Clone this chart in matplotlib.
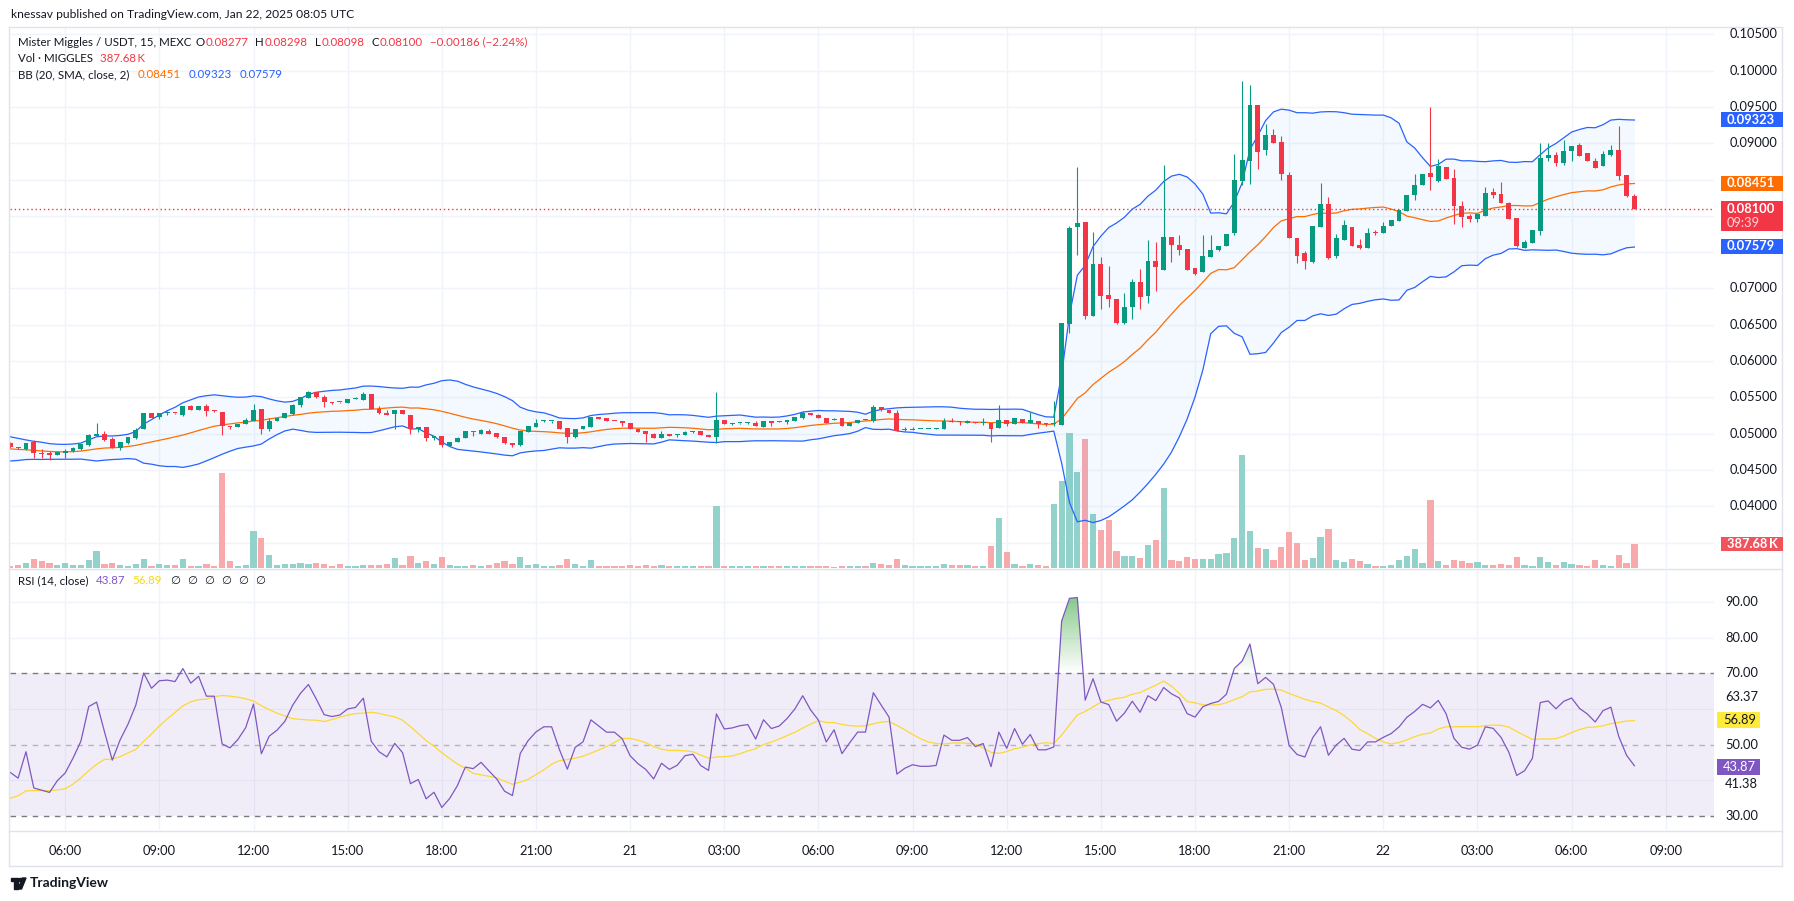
import numpy as np
import pandas as pd
import matplotlib
matplotlib.use("Agg")
import matplotlib.pyplot as plt
import matplotlib.path as mpath
from matplotlib.patches import Rectangle, Polygon, Circle
from matplotlib.lines import Line2D
from matplotlib.colors import LinearSegmentedColormap
from matplotlib.transforms import IdentityTransform

plt.rcParams['font.family'] = ['Lato', 'DejaVu Sans']

# ---------------- data (15-minute candles, MIGGLES/USDT, MEXC) ----------------
start_time = "2025-01-20 04:15"

opens = [
    .0487, .0482, .0479, .0488, .0473, .0473, .0471, .0473, .0476, .0479,
    .0484, .0497, .0500, .0492, .0480, .0487, .0494, .0507, .0528, .0523,
    .0528, .0529, .0526, .0538, .0532, .0538, .0532, .0530, .0511, .0509,
    .0513, .0518, .0534, .0507, .0517, .0521, .0527, .0539, .0549, .0558,
    .0550, .0543, .0544, .0542, .0547, .0546, .0554, .0534, .0528, .0527,
    .0532, .0526, .0506, .0509, .0494, .0497, .0483, .0488, .0494, .0503,
    .0500, .0504, .0501, .0496, .0487, .0484, .0502, .0509, .0517, .0517,
    .0518, .0508, .0496, .0506, .0509, .0523, .0521, .0518, .0518, .0515,
    .0507, .0503, .0500, .0494, .0500, .0498, .0498, .0502, .0503, .0498,
    .0496, .0519, .0513, .0514, .0514, .0515, .0509, .0518, .0517, .0516,
    .0518, .0522, .0529, .0525, .0522, .0519, .0521, .0511, .0515, .0520,
    .0518, .0537, .0533, .0529, .0505, .0505, .0506, .0506, .0506, .0506,
    .0518, .05162, .0515, .0516, .0514, .0515, .0508, .0519, .0513, .0520,
    .0515, .0517, .0515, .0513, .0512, .0651, .0784, .0792, .0662, .0734,
    .0691, .0685, .0652, .0674, .0709, .0689, .0738, .0726, .0771, .0760,
    .0754, .0728, .0722, .0743, .0753, .0759, .0776, .0848, .0876, .0953,
    .0891, .0912, .0902, .0856, .0769, .0749, .0736, .0785, .0816, .0744,
    .0767, .0785, .0760, .0756, .07762, .0776, .0786, .0793, .0807, .0828,
    .0842, .0859, .0848, .0867, .0852, .0814, .0800, .0796, .0800, .0833,
    .0830, .0818, .0797, .0756, .0762, .0779, .0879, .0884, .0873, .0889,
    .0897, .0886, .0876, .0868, .0884, .0891, .0856, .08277,
]
highs = [
    .0488, .0482, .0487, .0491, .0479, .0476, .0475, .0479, .0481, .0486,
    .0499, .0514, .0503, .0496, .0488, .0496, .0508, .0528, .0528, .0529,
    .0531, .0529, .0538, .0539, .0538, .0541, .0533, .0530, .0511, .0513,
    .0522, .0541, .0534, .0521, .0522, .0529, .0541, .0550, .0559, .0558,
    .0553, .0543, .0544, .0547, .0551, .0557, .0554, .0538, .0533, .0533,
    .0533, .0526, .0509, .0509, .0497, .0497, .0488, .0496, .0503, .0503,
    .0506, .0506, .0501, .0496, .0487, .0503, .0511, .0520, .0519, .0518,
    .0518, .0508, .0507, .0510, .0523, .0523, .0521, .0518, .0518, .0515,
    .0507, .0503, .0501, .0504, .0500, .0499, .0504, .0504, .0503, .0498,
    .0558, .0519, .0514, .0515, .0516, .0517, .0518, .0518, .0517, .0519,
    .0523, .0531, .0529, .0527, .0522, .0521, .0521, .0515, .0519, .0520,
    .0539, .0537, .0533, .0533, .0509, .0509, .05065, .05065, .0508, .0521,
    .0522, .0518, .0519, .0516, .0521, .0515, .0539, .0519, .0522, .0520,
    .0530, .0517, .0515, .0545, .0652, .0786, .0867, .0792, .0778, .0743,
    .0731, .0685, .0694, .0713, .0727, .0767, .0764, .0870, .0771, .0773,
    .0754, .0728, .0773, .0773, .0758, .0775, .0885, .0986, .0980, .0953,
    .0926, .0920, .0910, .0860, .0769, .0751, .0786, .0845, .0826, .0775,
    .0794, .0785, .0768, .0783, .0780, .0791, .0794, .0808, .0829, .0858,
    .0858, .0950, .0878, .0867, .0865, .0820, .0803, .0802, .0840, .0838,
    .0847, .0819, .0797, .0767, .0780, .0900, .0900, .0888, .0904, .0896,
    .0900, .0887, .0880, .0889, .0898, .0924, .0856, .08298,
]
lows = [
    .0480, .0479, .0477, .0466, .0467, .0463, .0470, .0467, .0475, .0478,
    .0483, .0497, .0490, .0480, .0477, .0486, .0493, .0506, .0522, .0520,
    .0525, .0527, .0524, .0533, .0532, .0524, .0530, .0498, .0506, .0509,
    .0513, .0518, .0500, .0503, .0517, .0521, .0526, .0537, .0549, .0549,
    .0537, .0541, .0542, .0542, .0547, .0546, .0534, .0527, .0525, .0506,
    .0527, .0500, .0502, .0490, .0491, .0481, .0483, .0488, .0494, .0497,
    .0500, .0500, .0494, .0486, .0481, .0483, .0502, .0509, .0516, .0515,
    .0506, .0487, .0494, .0506, .0509, .0520, .0517, .0517, .0511, .0506,
    .0502, .0489, .0494, .0494, .0497, .0496, .0498, .0501, .0498, .0495,
    .0487, .0513, .0512, .0513, .0513, .0510, .0509, .0510, .0516, .0513,
    .0518, .0520, .0525, .0522, .0515, .0519, .0510, .0511, .0515, .0519,
    .0516, .0531, .0528, .0503, .0503, .0505, .0506, .0506, .0506, .0506,
    .0516, .0512, .0515, .0514, .0512, .0489, .0508, .0510, .0513, .0515,
    .0515, .0508, .0511, .0510, .0512, .0638, .0746, .0658, .0662, .0671,
    .0675, .0651, .0651, .0658, .0672, .0680, .0697, .0726, .0737, .0746,
    .0726, .0718, .0722, .0743, .0751, .0759, .0774, .0843, .0844, .0865,
    .0884, .0900, .0850, .0769, .0735, .0727, .0735, .0785, .0741, .0742,
    .0767, .0759, .0754, .0756, .0774, .0776, .0786, .0793, .0807, .0822,
    .0842, .0836, .0846, .0851, .0789, .0785, .0791, .0791, .0800, .0825,
    .0817, .0796, .0757, .0756, .0762, .0774, .0875, .0869, .0870, .0875,
    .0882, .0876, .0866, .0868, .0882, .0849, .0826, .08098,
]
closes = [
    .0482, .0480, .0487, .0473, .0472, .0471, .0474, .0476, .0480, .0485,
    .0498, .0500, .0491, .0480, .0488, .0495, .0505, .0528, .0522, .0528,
    .05285, .0528, .0538, .0533, .0538, .0531, .0531, .0511, .0509, .0513,
    .0519, .0533, .0507, .0518, .0522, .0528, .0540, .0550, .0558, .0551,
    .0543, .0542, .0543, .0547, .0548, .0554, .0534, .0528, .0525, .0532,
    .0527, .0507, .0509, .0494, .0497, .0484, .0488, .0494, .0503, .0502,
    .0505, .0500, .0495, .0487, .0484, .0503, .0510, .0515, .0518, .0518,
    .0507, .0496, .0507, .0510, .0523, .0520, .0517, .0517, .0514, .0506,
    .0502, .0499, .0494, .0500, .0497, .04985, .0502, .05025, .0498, .0496,
    .0519, .0513, .05135, .05145, .0515, .0510, .0518, .0515, .0516, .0519,
    .0523, .0529, .0525, .0522, .0515, .05195, .0511, .0515, .0519, .0519,
    .0537, .0533, .0529, .0503, .05055, .0507, .05062, .05062, .05065, .0518,
    .0516, .0516, .0517, .0514, .0515, .0507, .0519, .0513, .0521, .0515,
    .0519, .0513, .0513, .0514, .0652, .0783, .0790, .0662, .0734, .0690,
    .0685, .0652, .0674, .0709, .0688, .0738, .0729, .0771, .0760, .0753,
    .0726, .0720, .0745, .0753, .0758, .0775, .0850, .0877, .0953, .0888,
    .0912, .0900, .0857, .0769, .0745, .0738, .0786, .0816, .0742, .0769,
    .0787, .0759, .0756, .0776, .0776, .0786, .0794, .0808, .0829, .0842,
    .0858, .0853, .0869, .0851, .0814, .0799, .0796, .0802, .0831, .0829,
    .0817, .0796, .0758, .0764, .0780, .0880, .0884, .0873, .0889, .0896,
    .0883, .0876, .0866, .0885, .0891, .0855, .0827, .08100,
]
volumes_k = [
    37, 53, 75, 148, 116, 85, 43, 85, 53, 53,
    132, 276, 69, 85, 53, 37, 69, 148, 37, 69,
    53, 53, 148, 37, 37, 69, 37, 1520, 116, 37,
    53, 595, 483, 212, 53, 69, 69, 85, 69, 85,
    69, 37, 69, 37, 37, 53, 53, 53, 69, 164,
    53, 196, 85, 116, 69, 180, 53, 37, 37, 53,
    37, 53, 85, 116, 69, 180, 53, 69, 37, 37,
    53, 148, 69, 37, 132, 37, 37, 37, 37, 53,
    37, 53, 37, 53, 37, 37, 37, 37, 37, 37,
    994, 37, 37, 37, 37, 37, 37, 37, 37, 37,
    37, 37, 37, 37, 37, 21, 37, 37, 37, 37,
    85, 69, 53, 148, 53, 37, 37, 37, 37, 69,
    53, 53, 53, 37, 37, 351, 798, 255, 64, 32,
    64, 48, 32, 1021, 1388, 2153, 1531, 2058, 861, 606,
    766, 271, 191, 191, 160, 367, 447, 1276, 128, 112,
    175, 144, 144, 144, 223, 239, 479, 1802, 590, 319,
    303, 128, 335, 574, 399, 128, 160, 494, 622, 128,
    96, 144, 112, 64, 32, 32, 48, 128, 191, 303,
    80, 1085, 112, 48, 128, 112, 80, 96, 48, 48,
    64, 48, 175, 48, 32, 175, 96, 48, 96, 64,
    48, 32, 128, 48, 32, 207, 80, 387.68,
]
# closes before the visible window (estimated), used only to warm up BB / RSI
history_closes = [
    .0498, .0494, .0496, .0490, .0486, .0488, .0482, .0478, .0474, .0470,
    .0467, .0471, .0468, .0472, .0475, .0471, .0476, .0479, .0476, .0484,
]

# values printed on the chart (legend / scale tags)
ohlc_legend = ["0.08277", "0.08298", "0.08098", "0.08100"]
change_legend = "\u22120.00186 (\u22122.24%)"
vol_legend = "387.68\u2009K"
bb_legend = [0.08451, 0.09323, 0.07579]
rsi_legend = [43.87, 56.89]
rsi_extra_labels = [63.37, 41.38]
countdown = "09:39"

# ---------------- colours ----------------
UP, DOWN = "#089981", "#F23645"
VUP, VDOWN = "#92D2CA", "#F7A9AB"
BLUE, ORANGE = "#2962FF", "#FF6D00"
PURPLE, YELLOW = "#7E57C2", "#FDD835"
GRID, FRAME, TXT = "#F0F3FA", "#E0E3EB", "#131722"

# ---------------- computations ----------------
o, h, l, c = (np.array(a, float) for a in (opens, highs, lows, closes))
vol = np.array(volumes_k, float)
n = len(c)
x = np.arange(n)
allc = pd.Series(history_closes + closes, dtype=float)
mid = allc.rolling(20).mean()
sd = allc.rolling(20).std(ddof=0)
bb_mid = mid.values[-n:]
bb_up = (mid + 2 * sd).values[-n:]
bb_lo = (mid - 2 * sd).values[-n:]


def wilder_rsi(values, length=14):
    v = np.asarray(values, float)
    diff = np.diff(v)
    gains, losses = np.clip(diff, 0, None), np.clip(-diff, 0, None)
    out = np.full(len(v), np.nan)
    ag, al = gains[:length].mean(), losses[:length].mean()
    out[length] = 100 - 100 / (1 + ag / al) if al > 0 else 100.0
    for k in range(length, len(diff)):
        ag = (ag * (length - 1) + gains[k]) / length
        al = (al * (length - 1) + losses[k]) / length
        out[k + 1] = 100 - 100 / (1 + ag / al) if al > 0 else 100.0
    return out


rsi_all = pd.Series(wilder_rsi(allc.values))
rsi_ma_all = rsi_all.rolling(14, min_periods=1).mean()
rsi = rsi_all.values[-n:]
rsi_ma = rsi_ma_all.values[-n:]

# ---------------- figure / layout ----------------
W, H = 1794, 901
fig = plt.figure(figsize=(W / 100, H / 100), dpi=100)
fig.patch.set_facecolor("white")
renderer = fig.canvas.get_renderer()


def rect(x0, y0, x1, y1):
    return [x0 / W, 1 - y1 / H, (x1 - x0) / W, (y1 - y0) / H]


PL, PR = 10, 1714
P_TOP, P_BOT = 27, 568
R_TOP, R_BOT = 570, 830
BAR_PX, X0_PX = 7.846, 10.28
xlim = ((PL - X0_PX) / BAR_PX, (PR - X0_PX) / BAR_PX)

ax = fig.add_axes(rect(PL, P_TOP, PR, P_BOT))
axr = fig.add_axes(rect(PL, R_TOP, PR, R_BOT))
for a in (ax, axr):
    a.set_axis_off()
    a.set_xlim(*xlim)
ax.set_ylim(0.031488, 0.10601)
axr.set_ylim(26.08, 98.97)

# time ticks
n_ext = int(np.ceil(xlim[1])) + 1
ext_times = pd.date_range(start_time, periods=n_ext, freq="15min")
tick_pos = [k for k, t in enumerate(ext_times) if t.minute == 0 and t.hour % 3 == 0]
tick_lab = [str(ext_times[k].day) if ext_times[k].hour == 0 else ext_times[k].strftime("%H:%M")
            for k in tick_pos]

# grids
price_levels = np.round(np.arange(0.035, 0.10501, 0.005), 3)
for p in price_levels:
    ax.axhline(p, color=GRID, lw=1, zorder=0)
for k in tick_pos:
    ax.axvline(k, color=GRID, lw=1, zorder=0)
    axr.axvline(k, color=GRID, lw=1, zorder=0)
for lv in (90, 80, 60, 40):
    axr.axhline(lv, color=GRID, lw=1, zorder=0)

# volume (overlay at the bottom of the price pane)
vol_top = vol.max() * 4.0
up = c >= o
ax.bar(x, vol / vol_top, width=0.8, bottom=0, color=np.where(up, VUP, VDOWN),
       transform=ax.get_xaxis_transform(), zorder=1, linewidth=0)

# Bollinger bands
ax.fill_between(x, bb_up, bb_lo, color="#2196F3", alpha=0.05, lw=0, zorder=2)
ax.plot(x, bb_up, color=BLUE, lw=0.9, zorder=3)
ax.plot(x, bb_lo, color=BLUE, lw=0.9, zorder=3)
ax.plot(x, bb_mid, color=ORANGE, lw=0.9, zorder=3)

# candles
col = np.where(up, UP, DOWN)
ax.vlines(x, l, h, colors=col, lw=0.8, zorder=4)
ax.bar(x, np.maximum(np.abs(c - o), 0.00014), bottom=np.minimum(o, c), width=0.62,
       color=col, zorder=5, linewidth=0)
ax.axhline(c[-1], color=DOWN, lw=1, ls=(0, (1, 2)), zorder=3)

# RSI pane
axr.axhspan(30, 70, color=PURPLE, alpha=0.1, lw=0, zorder=1)
axr.axhline(70, color="#787B86", lw=1, ls=(0, (4, 4)), zorder=2)
axr.axhline(30, color="#787B86", lw=1, ls=(0, (4, 4)), zorder=2)
axr.axhline(50, color="#787B86", lw=1, ls=(0, (4, 4)), alpha=0.5, zorder=2)


def gradient_fill(level, top, where, rgb):
    pc = axr.fill_between(x, rsi, level, where=where, interpolate=True,
                          facecolor="none", edgecolor="none")
    paths = pc.get_paths()
    if not paths:
        return
    cp = mpath.Path.make_compound_path(*paths)
    grad = np.linspace(0, 1, 256).reshape(-1, 1)
    cmap = LinearSegmentedColormap.from_list("g", [rgb + (0.0,), rgb + (0.95,)])
    lo_, hi_ = min(level, top), max(level, top)
    im = axr.imshow(grad if top > level else grad[::-1], extent=[x[0], x[-1], lo_, hi_],
                    origin="lower", aspect="auto", cmap=cmap, zorder=2,
                    interpolation="bilinear")
    im.set_clip_path(cp, transform=axr.transData)


gradient_fill(70, 100, np.nan_to_num(rsi) > 70, (76 / 255, 175 / 255, 80 / 255))
gradient_fill(30, 0, np.nan_to_num(rsi, nan=50) < 30, (242 / 255, 54 / 255, 69 / 255))
axr.plot(x, rsi_ma, color=YELLOW, lw=0.9, zorder=3)
axr.plot(x, rsi, color=PURPLE, lw=0.9, zorder=4)
axr.set_xlim(*xlim)
axr.set_ylim(26.08, 98.97)


# ---------------- pixel helpers ----------------
def ypx(axis, v):
    return H - axis.transData.transform((0, v))[1]


def xpx(axis, v):
    return axis.transData.transform((v, 0))[0]


def box(x0, y0, x1, y1, color, z=6):
    fig.add_artist(Rectangle((x0, H - y1), x1 - x0, y1 - y0, transform=IdentityTransform(),
                             facecolor=color, edgecolor="none", zorder=z))


def txt(xp, yp, s, size=9.3, color=TXT, ha="left", va="center", z=7, **kw):
    return fig.text(xp / W, 1 - yp / H, s, fontsize=size, color=color, ha=ha, va=va,
                    zorder=z, **kw)


def width_px(t):
    return t.get_window_extent(renderer=renderer).width


def fit_txt(xp, yp, s, target_w, size=9.3, **kw):
    t = txt(xp, yp, s, size=size, **kw)
    t.set_fontsize(size * target_w / width_px(t))
    return t


def flow(x_start, yp, parts, size):
    """place (text, color, gap_after) segments one after the other"""
    xc = x_start
    for s, cc, gap in parts:
        t = txt(xc, yp, s, size=size, color=cc)
        xc += width_px(t) + gap
    return xc


def line(x0, y0, x1, y1, color=FRAME):
    fig.add_artist(Line2D([x0 / W, x1 / W], [1 - y0 / H, 1 - y1 / H], transform=fig.transFigure,
                          color=color, lw=1, zorder=2))


# frame
for yy in (P_TOP, 569, 831, 866):
    line(9, yy, 1782, yy)
line(9, P_TOP, 9, 866)
line(1782, P_TOP, 1782, 866)

# header & legends
fit_txt(11, 15, "knessav published on TradingView.com, Jan 22, 2025 08:05 UTC", 340)
title = fit_txt(18, 42, "Mister Miggles / USDT, 15, MEXC", 172)
LS = title.get_fontsize()
parts = [("", TXT, 5)]
for lab, val in zip("OHLC", ohlc_legend):
    parts += [(lab, TXT, 1), (val, DOWN, 7)]
parts += [(change_legend, DOWN, 0)]
flow(18 + 172, 42, parts, LS)
flow(18, 59, [("Vol \u00b7 MIGGLES", TXT, 7), (vol_legend, DOWN, 0)], LS)
flow(18, 75, [("BB (20, SMA, close, 2)", TXT, 8),
              (f"{bb_legend[0]:.5f}", ORANGE, 8),
              (f"{bb_legend[1]:.5f}", BLUE, 8),
              (f"{bb_legend[2]:.5f}", BLUE, 0)], LS)
flow(18, 581, [("RSI (14, close)", TXT, 7),
               (f"{rsi_legend[0]:.2f}", PURPLE, 7),
               (f"{rsi_legend[1]:.2f}", "#F5D90A", 9)]
     + [("\u2205", TXT, 7)] * 6, LS)

# price scale
tag_vals = [(bb_legend[1], BLUE), (bb_legend[0], ORANGE), (bb_legend[2], BLUE)]
vol_tag_y = P_BOT - (vol[-1] / vol_top) * (P_BOT - P_TOP)
hidden = [ypx(ax, v) for v, _ in tag_vals] + [ypx(ax, c[-1]), vol_tag_y]
for p in price_levels:
    yp = ypx(ax, p)
    if min(abs(yp - hy) for hy in hidden) < 9:
        continue
    txt(1730, yp, f"{p:.5f}", size=9.3)
for v, cc in tag_vals:
    yp = ypx(ax, v)
    box(1721, yp - 7.5, 1783, yp + 7.5, cc)
    txt(1727, yp, f"{v:.5f}", color="white", size=9.3, weight="bold", z=8)
yp = ypx(ax, c[-1])
box(1721, yp - 8, 1783, yp + 22, DOWN)
txt(1727, yp, f"{c[-1]:.5f}", color="white", size=9.3, weight="bold", z=8)
txt(1727, yp + 14, countdown, color="#FFD6DA", size=9.3, z=8)
box(1721, vol_tag_y - 7, 1783, vol_tag_y + 7, "#F0535C")
txt(1727, vol_tag_y, vol_legend, color="white", size=9.3, weight="bold", z=8)

# RSI scale
for lv in (90, 80, 70, 50, 30):
    txt(1725, ypx(axr, lv), f"{lv:.2f}", size=9.3)
txt(1725, ypx(axr, rsi_extra_labels[0]), f"{rsi_extra_labels[0]:.2f}", size=9.3)
txt(1725, ypx(axr, rsi_legend[0]) + 17, f"{rsi_extra_labels[1]:.2f}", size=9.3)
for v, bg, fg in ((rsi_legend[1], "#FFEB3B", TXT), (rsi_legend[0], PURPLE, "white")):
    yp = ypx(axr, v)
    box(1717, yp - 8, 1760, yp + 8, bg)
    txt(1723, yp, f"{v:.2f}", color=fg, size=9.3, z=8)

# time axis labels
for k, lab in zip(tick_pos, tick_lab):
    txt(xpx(axr, k), 851, lab, ha="center", size=9.3)

# TradingView logo
fig.add_artist(Rectangle((11, H - 881), 7, 3, transform=IdentityTransform(), color=TXT, zorder=6))
fig.add_artist(Rectangle((14, H - 889), 3.5, 10, transform=IdentityTransform(), color=TXT, zorder=6))
fig.add_artist(Circle((20.5, H - 880), 1.6, transform=IdentityTransform(), color=TXT, zorder=6))
fig.add_artist(Polygon([(22.5, H - 878), (26, H - 878), (21.5, H - 889), (18, H - 889)],
                       closed=True, transform=IdentityTransform(), color=TXT, zorder=6))
txt(30, 883, "TradingView", size=10, weight="bold")

fig.savefig("out.png", dpi=100, facecolor="white")
